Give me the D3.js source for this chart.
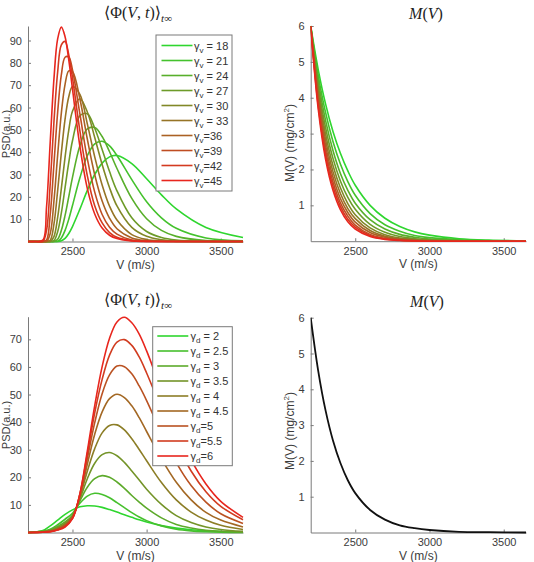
<!DOCTYPE html>
<html>
<head>
<meta charset="utf-8">
<script src="https://cdn.jsdelivr.net/npm/d3@7"></script>
<style>
body { margin: 0; background: #fff; }
text { font-family: "Liberation Sans", Arial, sans-serif; }
text.serif { font-family: "Liberation Serif", "DejaVu Serif", serif; }
.axis path, .axis line { stroke: #7a7a7a; }
.axis text { fill: #3c3c3c; font-size: 11px; font-family: "Liberation Sans", Arial, sans-serif; }
</style>
</head>
<body>
<svg id="fig" width="534" height="562"></svg>
<script>
// velocity grids (m/s)
var vGridTop = [2200, 2250, 2300, 2325, 2350, 2375, 2400, 2425, 2450, 2475, 2500, 2550, 2600, 2650, 2700, 2750, 2800, 2900, 3000, 3100, 3200, 3400, 3650];
var vGridBottom = [2200, 2300, 2350, 2400, 2450, 2500, 2550, 2600, 2650, 2700, 2750, 2800, 2850, 2900, 2950, 3000, 3100, 3200, 3300, 3400, 3500, 3650];
var vGridMass = [2200, 2250, 2300, 2350, 2400, 2450, 2500, 2600, 2700, 2800, 2900, 3000, 3200, 3400, 3650];
var vTicks = [2500, 3000, 3500];

// top-left: PSD for gamma_v
var gammaVLabels = [" = 18", " = 21", " = 24", " = 27", " = 30", " = 33", "=36", "=39", "=42", "=45"];
var psdV18 = [0, 0, 0, 0, 0, 0, 0, 0.3, 1.4, 3.6, 6.7, 14.5, 22.9, 30.0, 35.1, 37.9, 38.5, 34.9, 28.1, 20.9, 14.6, 6.3, 1.8];
var psdV21 = [0, 0, 0, 0, 0, 0, 0.1, 1.6, 5.0, 10.0, 16.1, 28.5, 38.4, 43.7, 44.9, 42.8, 38.5, 27.7, 17.8, 10.6, 5.9, 1.6, 0.3];
var psdV24 = [0, 0, 0, 0, 0, 0, 1.0, 5.0, 11.7, 20.1, 28.7, 42.9, 50.4, 51.0, 47.0, 40.2, 32.7, 19.3, 10.2, 5.0, 2.3, 0.4, 0.05];
var psdV27 = [0, 0, 0, 0, 0, 0.4, 4.4, 12.8, 24.1, 35.4, 45.1, 56.4, 57.2, 50.7, 41.2, 31.3, 22.7, 10.6, 4.5, 1.8, 0.7, 0.08, 0];
var psdV30 = [0, 0, 0, 0, 0, 2.2, 10.8, 23.8, 37.8, 49.9, 58.3, 63.9, 58.0, 46.6, 34.5, 24.1, 15.9, 6.3, 2.3, 0.8, 0.24, 0.03, 0];
var psdV33 = [0, 0, 0, 0, 0.6, 7.8, 22.8, 39.8, 54.8, 64.8, 69.4, 65.9, 52.7, 37.9, 25.3, 15.8, 9.6, 3.1, 0.9, 0.25, 0.06, 0, 0];
var psdV36 = [0, 0, 0, 0, 3.6, 18.2, 38.7, 57.6, 70.4, 76.4, 76.1, 63.8, 45.9, 29.9, 18.1, 10.4, 5.7, 1.6, 0.4, 0.1, 0, 0, 0];
var psdV39 = [0, 0, 0, 0.7, 12.2, 34.7, 57.9, 74.7, 82.5, 82.6, 76.8, 57.1, 37.1, 22.1, 12.1, 6.4, 3.3, 0.7, 0.2, 0.04, 0, 0, 0];
var psdV42 = [0, 0, 0, 5.0, 26.0, 53.6, 75.9, 88.0, 89.6, 83.6, 73.4, 49.5, 29.5, 16.0, 8.3, 4.0, 1.9, 0.4, 0.07, 0, 0, 0, 0];
var psdV45 = [0, 0, 0.6, 15.4, 44.6, 72.8, 90.7, 96.0, 91.7, 81.3, 68.3, 42.6, 23.8, 12.3, 6.0, 2.8, 1.3, 0.2, 0.05, 0, 0, 0, 0];

// top-right: M(V) for gamma_v
var massV18 = [6, 4.80, 3.83, 3.06, 2.45, 1.96, 1.56, 1.00, 0.64, 0.41, 0.26, 0.17, 0.07, 0.03, 0.01];
var massV21 = [6, 4.64, 3.59, 2.78, 2.15, 1.66, 1.28, 0.77, 0.46, 0.28, 0.16, 0.10, 0.04, 0.01, 0];
var massV24 = [6, 4.50, 3.37, 2.53, 1.89, 1.42, 1.06, 0.60, 0.34, 0.19, 0.11, 0.06, 0.02, 0.01, 0];
var massV27 = [6, 4.36, 3.17, 2.31, 1.68, 1.22, 0.89, 0.47, 0.25, 0.13, 0.07, 0.04, 0.01, 0, 0];
var massV30 = [6, 4.24, 2.99, 2.11, 1.49, 1.05, 0.74, 0.37, 0.18, 0.09, 0.05, 0.02, 0.01, 0, 0];
var massV33 = [6, 4.12, 2.83, 1.94, 1.33, 0.91, 0.63, 0.30, 0.14, 0.07, 0.03, 0.01, 0, 0, 0];
var massV36 = [6, 4.01, 2.68, 1.79, 1.19, 0.80, 0.53, 0.24, 0.11, 0.05, 0.02, 0.01, 0, 0, 0];
var massV39 = [6, 3.90, 2.54, 1.65, 1.07, 0.70, 0.45, 0.19, 0.08, 0.03, 0.01, 0.01, 0, 0, 0];
var massV42 = [6, 3.80, 2.41, 1.53, 0.97, 0.61, 0.39, 0.16, 0.06, 0.03, 0.01, 0, 0, 0, 0];
var massV45 = [6, 3.71, 2.29, 1.42, 0.88, 0.54, 0.34, 0.13, 0.05, 0.02, 0.01, 0, 0, 0, 0];

// bottom-left: PSD for gamma_d
var gammaDLabels = [" = 2", " = 2.5", " = 3", " = 3.5", " = 4", " = 4.5", "=5", "=5.5", "=6"];
var psdD2 = [0, 0.7, 2.4, 4.5, 6.6, 8.2, 9.3, 9.7, 9.6, 9.1, 8.3, 7.4, 6.4, 5.5, 4.6, 3.8, 2.5, 1.6, 1.0, 0.6, 0.35, 0.15];
var psdD25 = [0, 0.5, 1.2, 2.8, 4.8, 7.0, 10.6, 13.2, 14.2, 13.8, 12.6, 10.8, 9.0, 7.2, 5.6, 4.3, 2.4, 1.2, 0.6, 0.3, 0.13, 0.05];
var psdD3 = [0, 0.4, 0.9, 2.2, 3.8, 6.3, 11.5, 16.4, 19.5, 20.6, 20.0, 18.3, 16.0, 13.4, 11.0, 8.8, 5.3, 2.9, 1.6, 0.8, 0.4, 0.15];
var psdD35 = [0, 0.3, 0.7, 1.8, 3.3, 6.0, 12.1, 19.5, 25.1, 28.2, 29.0, 27.8, 25.4, 22.3, 19.0, 15.7, 10.2, 6.1, 3.6, 2.0, 1.1, 0.4];
var psdD4 = [0, 0.25, 0.6, 1.5, 3.0, 5.8, 12.8, 22.2, 30.4, 36.1, 38.8, 39.0, 37.2, 34.0, 30.1, 26.0, 18.1, 11.8, 7.4, 4.5, 2.6, 1.1];
var psdD45 = [0, 0.2, 0.5, 1.3, 2.7, 5.5, 13.1, 24.7, 35.6, 43.7, 48.5, 50.1, 48.9, 45.9, 41.6, 36.6, 26.7, 18.2, 11.8, 7.3, 4.5, 2.0];
var psdD5 = [0, 0.15, 0.4, 1.1, 2.4, 5.3, 13.7, 26.8, 39.8, 50.3, 57.1, 60.3, 60.1, 57.5, 53.1, 47.8, 36.0, 25.3, 17.0, 11.0, 6.8, 3.3];
var psdD55 = [0, 0.12, 0.3, 1.0, 2.2, 5.1, 14.0, 28.4, 43.4, 55.5, 64.3, 69.0, 69.9, 67.8, 63.6, 57.8, 44.8, 32.5, 22.3, 14.8, 9.5, 4.6];
var psdD6 = [0, 0.1, 0.3, 0.9, 2.0, 5.0, 14.0, 29.5, 46.0, 60.1, 70.4, 76.3, 78.0, 76.0, 71.9, 65.8, 51.6, 37.8, 26.3, 17.6, 11.3, 5.5];

// bottom-right: single M(V)
var massD = [6, 4.53, 3.41, 2.57, 1.94, 1.46, 1.10, 0.63, 0.36, 0.20, 0.12, 0.07, 0.02, 0.01, 0];

var psdVSeries = [psdV18, psdV21, psdV24, psdV27, psdV30, psdV33, psdV36, psdV39, psdV42, psdV45];
var massVSeries = [massV18, massV21, massV24, massV27, massV30, massV33, massV36, massV39, massV42, massV45];
var psdDSeries = [psdD2, psdD25, psdD3, psdD35, psdD4, psdD45, psdD5, psdD55, psdD6];

var greenRed = d3.interpolateRgb('#2fd62f', '#e8261e');
function rampColors(n){
   var c = [];
   for (var i = 0; i < n; i++){ c.push(greenRed(i / (n - 1))); }
   return c;
}
var colorsV = rampColors(10);
var colorsD = rampColors(9);

var svg = d3.select('#fig');

function makePanel(opt){
   var x = d3.scaleLinear().domain([2200, 3650]).range([opt.left, opt.right]);
   var y = d3.scaleLinear().domain([0, opt.yMax]).range([opt.bottom, opt.top]);
   var g = svg.append('g');

   g.append('clipPath').attr('id', opt.id).append('rect')
      .attr('x', opt.left).attr('y', opt.top - 3)
      .attr('width', opt.right - opt.left + 1).attr('height', opt.bottom - opt.top + 5);

   g.append('g').attr('class', 'axis')
      .attr('transform', 'translate(0,' + opt.bottom + ')')
      .call(d3.axisBottom(x).tickValues(vTicks).tickFormat(d3.format('d'))
         .tickSizeInner(-3).tickSizeOuter(0).tickPadding(6));
   g.append('g').attr('class', 'axis')
      .attr('transform', 'translate(' + opt.left + ',0)')
      .call(d3.axisLeft(y).tickValues(opt.yTicks).tickFormat(d3.format('d'))
         .tickSizeInner(-3).tickSizeOuter(0).tickPadding(6));

   var line = d3.line()
      .x(function(d, i){ return x(opt.grid[i]); })
      .y(function(d){ return y(d); })
      .curve(d3.curveCatmullRom.alpha(0.5));

   g.append('g').attr('clip-path', 'url(#' + opt.id + ')')
      .selectAll('path').data(opt.series).enter()
      .append('path')
      .attr('d', line)
      .attr('fill', 'none')
      .attr('stroke', function(d, i){ return opt.colors[i]; })
      .attr('stroke-width', opt.width || 1.6);

   // x label
   g.append('text').attr('x', (opt.left + opt.right) / 2).attr('y', opt.bottom + 27)
      .attr('text-anchor', 'middle').attr('font-size', 12).attr('fill', '#3c3c3c')
      .text('V (m/s)');
   return g;
}

function psdTitle(g, cx, cy){
   var t = g.append('text').attr('class', 'serif').attr('x', cx).attr('y', cy).attr('text-anchor', 'middle')
      .attr('font-size', 16).attr('fill', '#222');
   t.append('tspan').text('\u27E8\u03A6(');
   t.append('tspan').attr('font-style', 'italic').text('V');
   t.append('tspan').text(', ');
   t.append('tspan').attr('font-style', 'italic').text('t');
   t.append('tspan').text(')\u27E9');
   t.append('tspan').attr('font-style', 'italic').attr('font-size', 11).attr('dy', 4).text('t');
   t.append('tspan').attr('font-size', 11).text('\u221E');
}

function massTitle(g, cx, cy){
   var t = g.append('text').attr('class', 'serif').attr('x', cx).attr('y', cy).attr('text-anchor', 'middle')
      .attr('font-size', 16).attr('fill', '#222');
   t.append('tspan').attr('font-style', 'italic').text('M');
   t.append('tspan').text('(');
   t.append('tspan').attr('font-style', 'italic').text('V');
   t.append('tspan').text(')');
}

function psdYLabel(g, cx, cy){
   g.append('text').attr('transform', 'translate(' + cx + ',' + cy + ') rotate(-90)')
      .attr('text-anchor', 'middle').attr('font-size', 11).attr('fill', '#3c3c3c')
      .text('PSD(a.u.)');
}

function massYLabel(g, cx, cy){
   var t = g.append('text').attr('transform', 'translate(' + cx + ',' + cy + ') rotate(-90)')
      .attr('text-anchor', 'middle').attr('font-size', 12).attr('fill', '#3c3c3c');
   t.append('tspan').text('M(V) (mg/cm');
   t.append('tspan').attr('font-size', 8).attr('dy', -5).text('2');
   t.append('tspan').attr('dy', 5).text(')');
}

function legend(g, box, sub, labels, colors){
   g.append('rect').attr('x', box.x).attr('y', box.y).attr('width', box.w).attr('height', box.h)
      .attr('fill', '#fff').attr('stroke', '#7a7a7a').attr('stroke-width', 1);
   var items = g.selectAll('g.item').data(labels).enter().append('g')
      .attr('transform', function(d, i){ return 'translate(0,' + (box.first + box.step * i) + ')'; });
   items.append('line')
      .attr('x1', box.lx0).attr('x2', box.lx1).attr('y1', 0).attr('y2', 0)
      .attr('stroke', function(d, i){ return colors[i]; }).attr('stroke-width', 1.6);
   var t = items.append('text').attr('x', box.tx).attr('y', 4)
      .attr('font-size', 11).attr('fill', '#333');
   t.append('tspan').text('\u03B3');
   t.append('tspan').attr('font-size', 8).attr('dy', 3).text(sub);
   t.append('tspan').attr('dy', -3).text(function(d){ return d; });
}

// top-left
var p1 = makePanel({id: 'c1', left: 28, right: 243, top: 26, bottom: 241.5, yMax: 96.5,
   yTicks: [10, 20, 30, 40, 50, 60, 70, 80, 90], grid: vGridTop, series: psdVSeries, colors: colorsV});
psdTitle(p1, 138, 18);
psdYLabel(p1, 9.5, 134);
legend(p1, {x: 156, y: 35, w: 76, h: 156, first: 45.5, step: 15, lx0: 161.5, lx1: 192.5, tx: 194}, 'v', gammaVLabels, colorsV);

// top-right
var p2 = makePanel({id: 'c2', left: 310.7, right: 526, top: 26, bottom: 241.2, yMax: 6,
   yTicks: [1, 2, 3, 4, 5, 6], grid: vGridMass, series: massVSeries, colors: colorsV});
massTitle(p2, 426, 19);
massYLabel(p2, 294, 143);

// bottom-left
var p3 = makePanel({id: 'c3', left: 28, right: 243, top: 316.7, bottom: 532.5, yMax: 78.2,
   yTicks: [10, 20, 30, 40, 50, 60, 70], grid: vGridBottom, series: psdDSeries, colors: colorsD});
psdTitle(p3, 138, 305);
psdYLabel(p3, 9.5, 425);
legend(p3, {x: 152.7, y: 326.7, w: 79.6, h: 139, first: 336, step: 15, lx0: 157.3, lx1: 188.3, tx: 190.5}, 'd', gammaDLabels, colorsD);

// bottom-right
var p4 = makePanel({id: 'c4', left: 310.7, right: 526, top: 317.7, bottom: 532.5, yMax: 6,
   yTicks: [1, 2, 3, 4, 5, 6], grid: vGridMass, series: [massD], colors: ['#111'], width: 1.8});
massTitle(p4, 427, 307);
massYLabel(p4, 294, 431);
</script>
</body>
</html>
